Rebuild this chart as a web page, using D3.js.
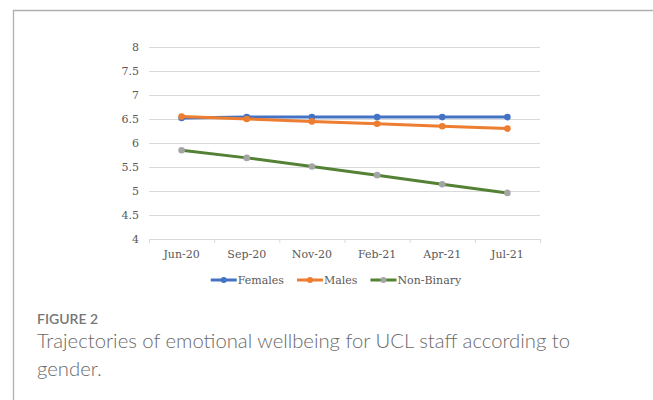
<!DOCTYPE html>
<html>
<head>
<meta charset="utf-8">
<script src="https://cdn.jsdelivr.net/npm/d3@7"></script>
<style>
  html, body { margin: 0; padding: 0; background: #fff; }
  svg { display: block; }
</style>
</head>
<body>
<script>
const categories = ["Jun-20", "Sep-20", "Nov-20", "Feb-21", "Apr-21", "Jul-21"];
const females = [6.52, 6.54, 6.54, 6.54, 6.54, 6.54];
const males = [6.55, 6.50, 6.45, 6.40, 6.35, 6.30];
const nonBinary = [5.85, 5.69, 5.51, 5.33, 5.14, 4.96];
const seriesNames = ["Females", "Males", "Non-Binary"];
const yTicks = [4, 4.5, 5, 5.5, 6, 6.5, 7, 7.5, 8];
const captionLabel = "FIGURE 2";
const captionLines = ["Trajectories of emotional wellbeing for UCL staff according to", "gender."];

(function () {
const W = 653, H = 400;
const svg = d3.select("body").append("svg").attr("width", W).attr("height", H);

// frame
svg.append("path").attr("d", `M13.5,${H} V10.5 H${W}`)
  .attr("fill", "none").attr("stroke", "#b0b0b0").attr("stroke-width", 1.3);

const pLeft = 149, pRight = 540, pTop = 47, pBottom = 239;
const x = d3.scaleBand().domain(categories).range([pLeft, pRight]).padding(0);
const y = d3.scaleLinear().domain([4, 8]).range([pBottom, pTop]);

const chartFont = "'DejaVu Serif', serif";
const chartSize = 11;
const textCol = "#595959";
const gridCol = "#d9d9d9";

// y axis with gridlines
const yAxis = svg.append("g").attr("transform", `translate(${pLeft},0)`)
  .call(d3.axisLeft(y).tickValues(yTicks).tickSize(-(pRight - pLeft)).tickPadding(10).tickFormat(d => String(d)));
yAxis.select(".domain").remove();
yAxis.selectAll(".tick line").attr("stroke", gridCol).attr("stroke-width", 1);
yAxis.selectAll(".tick text").attr("fill", textCol).attr("font-family", chartFont).attr("font-size", chartSize);

// x axis labels
const xAxis = svg.append("g").attr("transform", `translate(0,${pBottom})`)
  .call(d3.axisBottom(x).tickSize(0).tickPadding(11));
xAxis.select(".domain").remove();
xAxis.selectAll(".tick text").attr("fill", textCol).attr("font-family", chartFont).attr("font-size", chartSize);

// x tick marks at band boundaries
const bounds = categories.map(c => x(c)).concat([x.range()[1]]);
svg.append("g").selectAll("line").data(bounds).join("line")
  .attr("x1", d => d + 0.5).attr("x2", d => d + 0.5)
  .attr("y1", pBottom).attr("y2", pBottom + 4)
  .attr("stroke", gridCol).attr("stroke-width", 1);

const series = [
  { name: seriesNames[0], values: females, line: "#4472C4", marker: "#4472C4" },
  { name: seriesNames[1], values: males, line: "#ED7D31", marker: "#ED7D31" },
  { name: seriesNames[2], values: nonBinary, line: "#548235", marker: "#A5A5A5" }
];

const lineGen = d3.line()
  .x((d, i) => x(categories[i]) + x.bandwidth() / 2)
  .y(d => y(d));

series.forEach(s => {
  const g = svg.append("g");
  g.append("path").datum(s.values).attr("d", lineGen)
    .attr("fill", "none").attr("stroke", s.line).attr("stroke-width", 3)
    .attr("stroke-linejoin", "round").attr("stroke-linecap", "round");
  g.selectAll("circle").data(s.values).join("circle")
    .attr("cx", (d, i) => x(categories[i]) + x.bandwidth() / 2)
    .attr("cy", d => y(d))
    .attr("r", 3.3)
    .attr("fill", s.marker);
});

// legend (centred)
const legend = svg.append("g");
let lx = 0;
const ly = 280;
series.forEach(s => {
  const g = legend.append("g");
  g.append("line").attr("x1", lx).attr("x2", lx + 26).attr("y1", ly).attr("y2", ly)
    .attr("stroke", s.line).attr("stroke-width", 3);
  g.append("circle").attr("cx", lx + 13).attr("cy", ly).attr("r", 3).attr("fill", s.marker);
  const t = g.append("text").attr("x", lx + 27).attr("y", ly).attr("dy", "0.35em")
    .attr("fill", textCol).attr("font-family", chartFont).attr("font-size", chartSize)
    .text(s.name);
  lx += 27 + t.node().getComputedTextLength() + 13;
});
const legW = lx - 13;
legend.attr("transform", `translate(${336 - legW / 2},0)`);

// caption
const capFont = "Lato, 'Open Sans', sans-serif";
svg.append("text").attr("x", 37).attr("y", 324)
  .attr("font-family", capFont).attr("font-size", 14).attr("font-weight", 600)
  .attr("fill", "#767676").text(captionLabel);
svg.append("g").selectAll("text").data(captionLines).join("text")
  .attr("x", 37).attr("y", (d, i) => 348 + i * 28)
  .attr("font-family", capFont).attr("font-size", 20.3).attr("font-weight", 300)
  .attr("fill", "#6a6a6a").text(d => d);
})();
</script>
</body>
</html>
